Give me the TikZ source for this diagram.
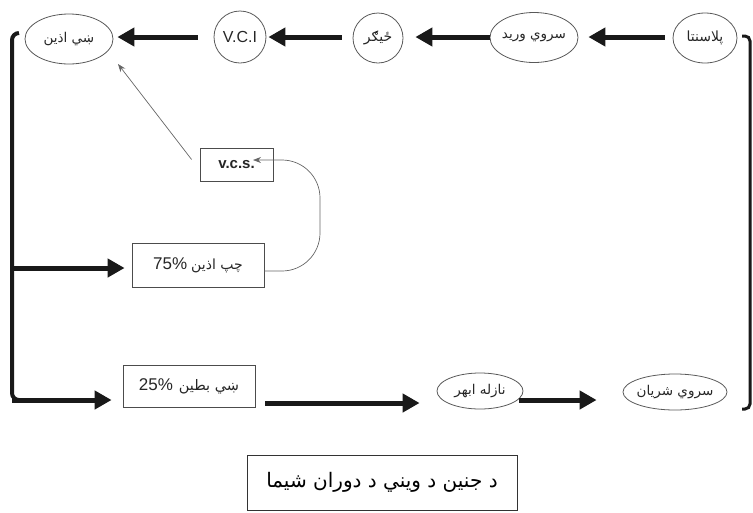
\documentclass[tikz,border=0pt]{standalone}
\usepackage{fontspec}
\setmainfont{Liberation Sans}
\newfontfamily\arabicfont[Script=Arabic]{DejaVu Sans}
\TeXXeTstate=1
\usetikzlibrary{arrows.meta,shapes.geometric,calc}
\newcommand{\artxt}[1]{{\arabicfont\beginR #1\endR}}
\begin{document}
\begin{tikzpicture}[x=1pt,y=-1pt,
  ell/.style={ellipse, draw=black!65, line width=0.8pt, inner sep=-4pt, text=black!85, font=\fontsize{13.5}{15}\selectfont},
  circ/.style={circle, draw=black!65, line width=0.8pt, inner sep=0pt, text=black!85},
  box/.style={rectangle, draw=black!70, line width=0.8pt, inner sep=0pt, text=black!85},
  bigarrow/.style={line width=5pt, draw=black!90, -{Triangle[length=17pt,width=18pt]}},
  bracket/.style={line width=4pt, draw=black!90, rounded corners=7pt},
  thinarrow/.style={draw=black!60, line width=0.7pt, -{Stealth[length=8pt,width=6pt]}}]
\useasboundingbox (0,0) rectangle (753,512);

% top row
\node[ell, minimum width=88pt, minimum height=50pt] (ra) at (69,39) {\artxt{ښي اذين}};
\node[circ, minimum size=52pt, font=\fontsize{16}{18}\selectfont] (vci) at (240,37) {V.C.I};
\node[circ, minimum size=50pt] (liver) at (378,38) {\fontsize{14}{16}\selectfont\artxt{ځيګر}};
\node[ell, minimum width=88pt, minimum height=50pt] (uv) at (534,37.5) {\artxt{سروي ورید}};
\node[ell, minimum width=64pt, minimum height=50pt] (pl) at (705,38) {\fontsize{14}{16}\selectfont\artxt{پلاسنتا}};

% middle boxes
\node[box, minimum width=73pt, minimum height=33pt, font=\bfseries\fontsize{15}{17}\selectfont] (vcs) at (236.5,164.5) {v.c.s.\hspace{18pt}};
\node[box, minimum width=132pt, minimum height=44pt, font=\fontsize{17}{19}\selectfont] (la) at (198,265) {75\%\hspace{4pt}{\fontsize{14}{16}\selectfont\artxt{چپ اذين}}};

% bottom row
\node[box, minimum width=132pt, minimum height=42pt, font=\fontsize{17}{19}\selectfont] (rv) at (189,386.5) {25\%\hspace{6pt}{\fontsize{14.5}{16}\selectfont\artxt{ښي بطين}}};
\node[ell, minimum width=86pt, minimum height=36pt] (ao) at (480,391) {\artxt{نازله ابهر}};
\node[ell, minimum width=104pt, minimum height=36pt] (ua) at (675,392) {\artxt{سروي شريان}};

% caption
\node[box, minimum width=270pt, minimum height=55pt, draw=black!80, text=black, font=\fontsize{20}{22}\selectfont] (cap) at (382,482.5) {\artxt{د جنين د ويني د دوران شيما}};

% thick arrows, top row
\draw[bigarrow] ([xshift=-16pt]vci.west) -- ([xshift=4pt]ra.east |- vci.west);
\draw[bigarrow] ([xshift=-11pt]liver.west |- vci.west) -- ([xshift=2pt]vci.east);
\draw[bigarrow] (uv.west |- 0,37) -- ([xshift=12pt]liver.east |- 0,37);
\draw[bigarrow] ([xshift=-8pt]pl.west |- 0,37) -- ([xshift=10pt]uv.east |- 0,37);

% left bracket
\coordinate (lt) at (19,33);
\draw[bracket] (lt) -- (12,33) -- (12,400) -- (60,400);
\draw[bigarrow] (12,400) -- ([xshift=-11pt]rv.west |- 0,400);
\draw[bigarrow] (10,268) -- ([xshift=-7pt]la.west |- 0,268);

% right bracket
\coordinate (rt) at (742,36);
\coordinate (rb) at (742,409);
\draw[line width=3pt, draw=black!90, rounded corners=5pt] (rt) -- (750,36) -- (750,409) -- (rb);

% bottom arrows
\draw[bigarrow] ([xshift=10pt]rv.east |- 0,403) -- ([xshift=-17pt]ao.west |- 0,403);
\draw[bigarrow] ([shift={(-4,9)}]ao.east) -- ([xshift=-26pt]ua.west |- 0,400);

% thin connectors
\draw[thinarrow, rounded corners=38pt] (la.east |- 0,271) -- (320,271) -- (320,160) -- (253,160);
\draw[thinarrow] ([shift={(-8,-5)}]vcs.west) -- ([shift={(49,25)}]ra.center);
\end{tikzpicture}
\end{document}
